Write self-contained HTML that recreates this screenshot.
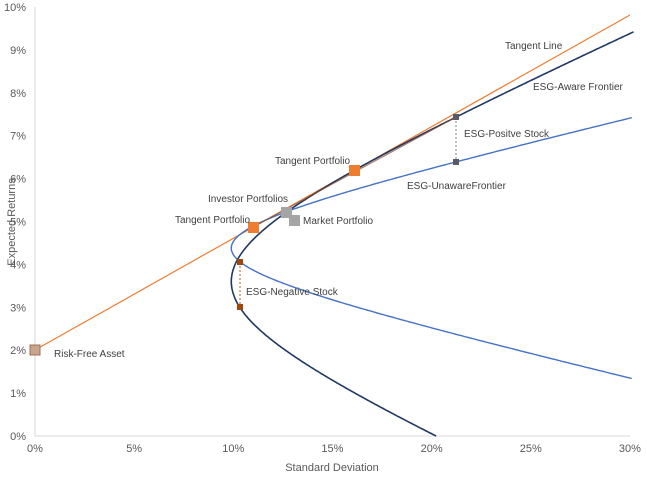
<!DOCTYPE html>
<html><head><style>body{margin:0;background:#fff}svg{display:block;font-family:"Liberation Sans",sans-serif}</style></head>
<body>
<svg id="s" width="647" height="483" viewBox="0 0 647 483">
<g stroke="#d9d9d9" stroke-width="1">
<line x1="35" y1="7" x2="35" y2="436"/><line x1="35" y1="436" x2="630" y2="436"/>
</g>
<g font-size="11" fill="#595959" text-anchor="end" id="yt"></g>
<g font-size="11" fill="#595959" text-anchor="middle" id="xt"></g>
<text x="332" y="471" font-size="11" fill="#595959" text-anchor="middle">Standard Deviation</text>
<text transform="translate(15,222) rotate(-90)" font-size="11" fill="#595959" text-anchor="middle">Expected Returns</text>
<line x1="35" y1="350" x2="630" y2="15" stroke="#ed7d31" stroke-width="1.2"/>
<path id="blue" fill="none" stroke="#4472c4" stroke-width="1.4"/>
<path id="navy" fill="none" stroke="#203864" stroke-width="1.6"/>
<line x1="253" y1="227" x2="456" y2="117" stroke="#8b4a2b" stroke-width="1.2" opacity="0.7"/>
<line x1="240" y1="262" x2="240" y2="307" stroke="#c55a11" stroke-dasharray="2,2"/>
<line x1="456" y1="117" x2="456" y2="162" stroke="#7f7f7f" stroke-dasharray="2,2"/>
<rect x="30" y="345" width="10" height="10" fill="#c9a58c" stroke="#a0705a"/>
<rect x="237" y="259" width="6" height="6" fill="#9e480e"/>
<rect x="237" y="304" width="6" height="6" fill="#9e480e"/>
<rect x="453" y="114" width="6" height="6" fill="#595968"/>
<rect x="453" y="159" width="6" height="6" fill="#595968"/>
<rect x="248" y="222" width="11" height="11" fill="#ed7d31"/>
<rect x="349" y="165" width="11" height="11" fill="#ed7d31"/>
<rect x="281" y="207" width="11" height="11" fill="#a5a5a5"/>
<rect x="289" y="215" width="11" height="11" fill="#a5a5a5"/>
<g font-size="10" fill="#404040">
<text x="505" y="49">Tangent Line</text>
<text x="533" y="90">ESG-Aware Frontier</text>
<text x="464" y="137">ESG-Positve Stock</text>
<text x="275" y="164">Tangent Portfolio</text>
<text x="407" y="189">ESG-UnawareFrontier</text>
<text x="208" y="202">Investor Portfolios</text>
<text x="175" y="223">Tangent Portfolio</text>
<text x="303" y="224">Market Portfolio</text>
<text x="246" y="295">ESG-Negative Stock</text>
<text x="54" y="357">Risk-Free Asset</text>
</g>
</svg>
<script>
var X=s=>35+s*19.83,Y=m=>436-m*42.9;
var yt=document.getElementById('yt'),xt=document.getElementById('xt'),h='';
for(var i=0;i<=10;i++)h+='<text x="26" y="'+(Y(i)+4)+'">'+i+'%</text>';yt.innerHTML=h;h='';
for(var i=0;i<=30;i+=5)h+='<text x="'+X(i)+'" y="452">'+i+'%</text>';xt.innerHTML=h;
function path(a,b,m,lo,hi){var d='';for(var mu=lo;mu<=hi+1e-9;mu+=0.02){var sg=Math.sqrt(a+b*(mu-m)*(mu-m));if(sg>30.2)continue;d+=(d?'L':'M')+X(sg).toFixed(1)+','+Y(mu).toFixed(1);}return d;}
document.getElementById('navy').setAttribute('d',path(98,24,3.6,0,9.6));
document.getElementById('blue').setAttribute('d',path(98,87.4,4.38,1.3,7.5));
</script>
</body></html>
